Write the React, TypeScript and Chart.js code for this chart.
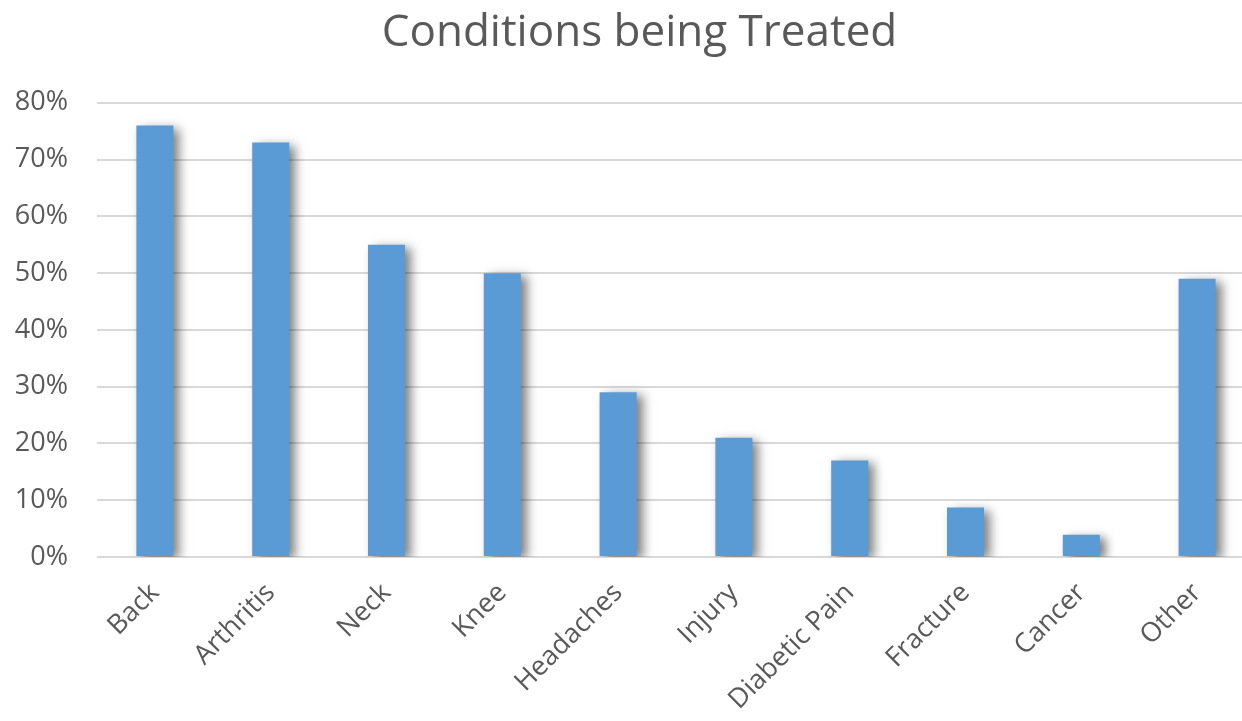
import React, { useEffect, useRef } from "react";
import { Chart, registerables } from "chart.js";

Chart.register(...registerables);

const categories = ["Back", "Arthritis", "Neck", "Knee", "Headaches", "Injury", "Diabetic Pain", "Fracture", "Cancer", "Other"];
const values = [76, 73, 55, 50, 29, 21, 17, 8.7, 3.9, 49];
const titleText = "Conditions being Treated";

const FONT = "'Open Sans', 'Noto Sans', sans-serif";

const shadowPlugin = {
  id: "barShadow",
  beforeDatasetsDraw(chart: any) {
    const ctx = chart.ctx;
    ctx.save();
    ctx.shadowColor = "rgba(0,0,0,0.5)";
    ctx.shadowBlur = 10;
    ctx.shadowOffsetX = 6;
    ctx.shadowOffsetY = 3;
  },
  afterDatasetsDraw(chart: any) {
    chart.ctx.restore();
  },
};

// centre the title over the visible 1242px page rather than the wider canvas box
const titleShift = {
  id: "titleShift",
  afterLayout(chart: any) {
    const t = chart.titleBlock;
    if (t) {
      t.left += 12;
      t.right += 12;
    }
  },
};

export default function App() {
  const ref = useRef<HTMLCanvasElement>(null);
  useEffect(() => {
    document.body.style.margin = "0";
    const chart = new Chart(ref.current!, {
      type: "bar",
      data: {
        labels: categories,
        datasets: [
          {
            data: values,
            backgroundColor: "#5B9BD5",
            borderWidth: 0,
            categoryPercentage: 1,
            barPercentage: 0.32,
          },
        ],
      },
      options: {
        responsive: false,
        animation: false,
        devicePixelRatio: 1,
        layout: { padding: { left: 0, right: 25, top: 0, bottom: 0 } },
        plugins: {
          legend: { display: false },
          tooltip: { enabled: false },
          title: {
            display: true,
            text: titleText,
            color: "#595959",
            font: { family: FONT, size: 44, weight: "normal" },
            padding: { top: 7, bottom: 43 },
          },
        },
        scales: {
          x: {
            grid: { display: false, drawTicks: false },
            border: { display: false },
            ticks: {
              color: "#595959",
              font: { family: FONT, size: 27 },
              minRotation: 45,
              maxRotation: 45,
              padding: 20,
            },
            afterFit(scale: any) {
              scale.height = 721 - 557;
            },
          },
          y: {
            min: 0,
            max: 80,
            grid: { color: "#d9d9d9", lineWidth: 2, drawTicks: false },
            border: { display: false },
            ticks: {
              stepSize: 10,
              color: "#595959",
              font: { family: FONT, size: 27 },
              padding: 29,
              callback: (v: any) => v + "%",
            },
            afterFit(scale: any) {
              scale.width = 97;
            },
          },
        },
      },
      plugins: [shadowPlugin, titleShift],
    });
    return () => chart.destroy();
  }, []);
  return (
    <div style={{ width: 1242, height: 721, overflow: "hidden" }}>
      <canvas ref={ref} width={1280} height={721} style={{ display: "block" }} />
    </div>
  );
}
